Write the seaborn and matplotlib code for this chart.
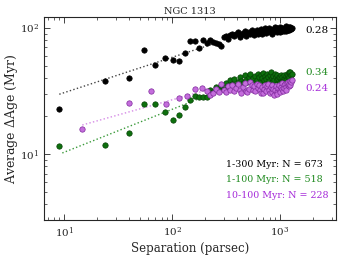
import numpy as np
import pandas as pd
import seaborn as sns
from matplotlib import pyplot as plt

# separation bins (parsec), shared by the dense part of all three samples
sep = [9, 24, 40, 55, 70, 86, 101, 116, 132, 147, 162, 178, 193, 208, 223, 239,
       254, 269, 284, 300, 315, 330, 346, 361, 376, 391, 407, 422, 437, 453, 468,
       483, 498, 514, 529, 544, 560, 575, 590, 605, 621, 636, 651, 667, 682, 697,
       712, 728, 743, 758, 774, 789, 804, 819, 835, 850, 865, 881, 896, 911, 926,
       942, 957, 972, 988, 1003, 1018, 1033, 1049, 1064, 1079, 1095, 1110, 1125,
       1140, 1156, 1171, 1186, 1202, 1217, 1232, 1247, 1263, 1278]

age_1_300 = [22.9, 38.2, 40.4, 66.9, 50.6, 57.4, 56.1, 54.7, 63.4, 79.3, 78.3, 69.8,
             79.8, 76, 80.3, 77, 75.6, 74.2, 72.4, 84, 87, 82, 88, 90, 86, 89, 92, 85,
             88, 91, 94, 87, 90, 93, 89, 96, 91, 88, 93, 97, 90, 94, 92, 98, 89, 95,
             93, 99, 91, 96, 94, 100, 92, 97, 95, 90, 98, 94, 101, 96, 92, 99, 95, 97,
             102, 93, 98, 95, 100, 96, 94, 99, 97, 103, 95, 98, 100, 96, 101, 97, 99,
             102, 98, 100]

age_1_100 = [11.6, 11.7, 14.8, 24.9, 24.8, 21.7, 18.5, 20.4, 23.7, 26.8, 28.8, 28.3,
             28.3, 28.4, 32.2, 31.0, 33.8, 32.5, 35.4, 33.0, 36.5, 34.5, 38.7, 36.0,
             39.5, 35.5, 37.5, 40.5, 38.0, 36.5, 42.4, 39.0, 37.0, 41.0, 43.1, 38.5,
             40.0, 36.5, 41.5, 39.0, 43.5, 41.0, 37.5, 42.0, 40.0, 44.0, 38.5, 41.5,
             39.5, 43.0, 40.5, 38.0, 42.5, 44.5, 40.0, 37.5, 41.5, 39.0, 43.0, 40.5,
             38.5, 42.0, 39.5, 41.0, 37.5, 40.5, 42.5, 39.0, 41.0, 38.0, 40.0, 42.0,
             39.5, 41.5, 38.5, 43.5, 40.5, 42.0, 44.5, 41.0, 43.0, 44.5, 42.5, 43.5]

sep_10_100 = [14.7, 40, 64, 88, 116, 136, 163, 187] + sep[13:]
age_10_100 = [15.9, 25.2, 31.8, 24.9, 27.7, 29.0, 32.8, 33.4, 31.8, 29.5, 30.6, 33.0,
              31.2, 36.0, 32.0, 30.8, 34.5, 32.2, 35.5, 31.5, 33.5, 36.0, 32.5, 30.5,
              34.0, 36.5, 31.8, 30.8, 33.0, 37.5, 35.0, 32.0, 34.5, 31.5, 36.0, 33.5,
              35.5, 32.0, 30.5, 34.0, 30.3, 33.0, 35.5, 31.5, 34.5, 36.0, 32.5, 30.5,
              34.0, 31.0, 35.0, 33.0, 29.5, 32.0, 34.5, 31.0, 29.8, 33.5, 35.5, 32.0,
              30.8, 34.0, 36.5, 33.0, 31.5, 35.0, 33.5, 36.0, 34.0, 32.5, 36.5, 35.0,
              37.5, 34.5, 36.0, 38.0, 35.5, 37.0, 38.7]

# power-law fits: amplitude at 10 pc and slope, fitted out to ~250 pc
fit_amp = [30.7, 10.35, 15.5]
fit_slope = [0.28, 0.34, 0.24]
fit_start = [9, 9.6, 14.7]
fit_end = 250

labels = ['1-300 Myr: N = 673', '1-100 Myr: N = 518', '10-100 Myr: N = 228']
slope_text = ['0.28', '0.34', '0.24']
slope_text_y = [94.7, 44, 33.4]

sns.set_style('ticks')
plt.rcParams['font.family'] = ['DejaVu Serif']
plt.rcParams['mathtext.fontset'] = 'dejavuserif'

fig = plt.figure(figsize=(3.44, 2.58), dpi=100)
ax = fig.add_axes([0.128, 0.147, 0.849, 0.787])

face = ['black', '#0d700d', '#c46ddc']
edge = ['black', '#064006', '#7f2a9c']
line_col = ['#444444', '#3a9a3a', '#d58ae6']
text_col = ['black', '#1f8a1f', '#a52ad9']

sets = [(sep, age_1_300), (sep, age_1_100), (sep_10_100, age_10_100)]
for i, (xs, ys) in enumerate(sets):
    df = pd.DataFrame({'sep': xs, 'age': ys})
    sns.scatterplot(data=df, x='sep', y='age', ax=ax, color=face[i],
                    edgecolor=edge[i], linewidth=0.5, s=15, zorder=3 + i)
    xf = np.geomspace(fit_start[i], fit_end, 50)
    yf = fit_amp[i] * (xf / 10.0) ** fit_slope[i]
    sns.lineplot(x=xf, y=yf, ax=ax, color=line_col[i], linestyle=':',
                 linewidth=1.0, zorder=2)
    ax.text(1700, slope_text_y[i], slope_text[i], color=text_col[i],
            fontsize=7.5, va='center', ha='left')
    ax.text(0.623, [0.276, 0.202, 0.123][i], labels[i], color=text_col[i],
            fontsize=6.8, transform=ax.transAxes, va='center', ha='left')

ax.set_xscale('log')
ax.set_yscale('log')
ax.set_xlim(6.5, 3300)
ax.set_ylim(3.0, 122)
ax.tick_params(which='both', direction='in', top=True, right=True, labelsize=7.5)
ax.tick_params(which='major', length=4, width=0.6)
ax.tick_params(which='minor', length=2, width=0.5)
for s in ax.spines.values():
    s.set_linewidth(0.8)
ax.set_xlabel('Separation (parsec)', fontsize=8.5)
ax.set_ylabel('Average $\\Delta$Age (Myr)', fontsize=9)
ax.xaxis.set_label_coords(0.5, -0.107)
ax.yaxis.set_label_coords(-0.082, 0.5)
ax.set_title('NGC 1313', fontsize=7, pad=2)

fig.savefig('out.png', dpi=100)
